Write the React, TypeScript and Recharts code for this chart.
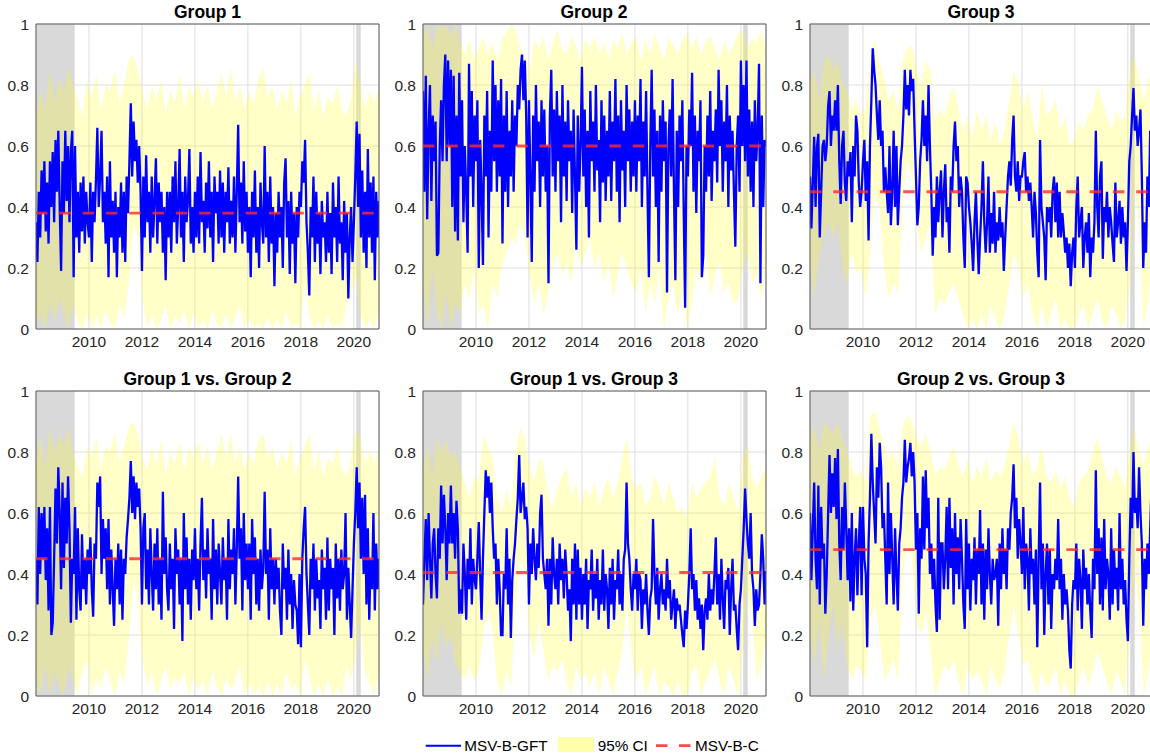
import React from 'react';
import {
  ComposedChart,
  Line,
  Area,
  XAxis,
  YAxis,
  CartesianGrid,
  ReferenceArea,
  ReferenceLine,
} from 'recharts';

// ---------- axis / category data ----------
const START = 2008.0;
const END = 2020.95;
const X_TICKS = [2010, 2012, 2014, 2016, 2018, 2020];
const Y_TICKS = [0, 0.2, 0.4, 0.6, 0.8, 1];
const RECESSIONS: [number, number][] = [
  [2008.0, 2009.46],
  [2020.09, 2020.26],
];

const TITLES = [
  'Group 1',
  'Group 2',
  'Group 3',
  'Group 1 vs. Group 2',
  'Group 1 vs. Group 3',
  'Group 2 vs. Group 3',
];

// constant-correlation model (MSV-B-C) levels
const CONST_LEVELS = [0.38, 0.6, 0.45, 0.45, 0.405, 0.48];

// ---------- MSV-B-GFT estimates (hundredths), 19 per year, evenly spaced 2008.0 .. 2020.95 ----------
const G1_EST = [
  35, 22, 45, 30, 52, 38, 55, 32, 48, 28, 55, 40, 58, 35, 62, 45, 65, 40, 19,
  55, 38, 65, 42, 60, 35, 58, 65, 17, 60, 30, 45, 25, 48, 32, 50, 28, 45, 35,
  30, 48, 22, 45, 35, 49, 66, 40, 50, 65, 35, 45, 28, 50, 17, 55, 30, 42, 25,
  45, 17, 40, 30, 48, 25, 45, 22, 50, 38, 55, 74, 50, 68, 55, 62, 48, 60, 45,
  19, 50, 30, 57, 35, 45, 25, 50, 30, 42, 56, 28, 48, 35, 45, 25, 40, 16, 45,
  30, 45, 25, 50, 35, 55, 28, 40, 59, 30, 45, 22, 50, 35, 42, 59, 28, 40, 25,
  45, 30, 50, 28, 58, 35, 42, 25, 48, 33, 55, 30, 45, 22, 50, 38, 45, 28, 52,
  30, 48, 25, 45, 35, 53, 28, 42, 30, 50, 25, 45, 67, 35, 48, 28, 55, 32, 45,
  25, 40, 17, 45, 30, 52, 25, 40, 20, 48, 35, 28, 60, 30, 45, 22, 50, 28, 40,
  14, 38, 25, 45, 30, 40, 20, 48, 56, 30, 42, 18, 45, 28, 38, 15, 40, 30, 45,
  40, 55, 48, 62, 35, 25, 11, 40, 30, 50, 22, 45, 28, 38, 18, 42, 30, 35, 22,
  45, 25, 38, 18, 48, 30, 40, 22, 50, 28, 35, 16, 42, 25, 38, 10, 30, 40, 22,
  35, 50, 68, 40, 64, 30, 52, 25, 45, 20, 59, 30, 48, 25, 50, 16, 45, 30, 42,
];
const G2_EST = [
  78, 45, 83, 36, 65, 80, 42, 70, 55, 68, 24, 25, 60, 75, 55, 80, 90, 55, 88,
  60, 85, 40, 83, 32, 70, 29, 84, 50, 75, 35, 60, 45, 25, 87, 50, 78, 40, 70,
  55, 75, 20, 62, 45, 21, 70, 50, 78, 30, 65, 45, 88, 55, 80, 45, 75, 50, 82,
  28, 70, 45, 78, 40, 65, 50, 75, 45, 70, 60, 80, 72, 85, 90, 75, 88, 70, 30,
  75, 50, 22, 70, 45, 80, 55, 68, 40, 75, 50, 72, 45, 60, 15, 70, 85, 50, 72,
  45, 78, 55, 70, 35, 80, 50, 68, 42, 75, 55, 65, 38, 72, 50, 26, 70, 45, 60,
  86, 50, 72, 40, 65, 30, 78, 55, 68, 45, 80, 52, 62, 35, 75, 48, 70, 42, 65,
  50, 78, 42, 68, 55, 82, 45, 70, 35, 75, 52, 65, 40, 80, 55, 72, 45, 68, 50,
  75, 45, 70, 55, 82, 40, 68, 50, 78, 45, 17, 60, 85, 50, 72, 40, 65, 22, 70,
  45, 75, 55, 68, 12, 60, 72, 50, 82, 45, 16, 65, 40, 70, 55, 75, 38, 7, 60,
  50, 72, 60, 84, 45, 70, 38, 65, 55, 75, 17, 24, 60, 45, 70, 50, 78, 42, 65,
  55, 72, 48, 85, 60, 75, 45, 68, 55, 80, 40, 70, 52, 65, 45, 27, 60, 70, 45,
  88, 60, 80, 55, 88, 50, 72, 45, 68, 40, 75, 55, 65, 87, 15, 70, 40, 62, 60,
];
const G3_EST = [
  50, 33, 48, 63, 40, 60, 64, 30, 45, 60, 62, 55, 60, 73, 78, 60, 70, 65, 75,
  65, 80, 55, 41, 60, 65, 48, 42, 55, 50, 58, 35, 60, 50, 70, 65, 48, 40, 45,
  55, 62, 42, 55, 29, 60, 75, 92, 85, 80, 70, 62, 75, 60, 65, 45, 53, 45, 38,
  60, 34, 45, 65, 40, 60, 34, 45, 55, 60, 70, 85, 72, 80, 70, 85, 78, 82, 65,
  50, 34, 40, 55, 62, 75, 60, 70, 55, 80, 60, 45, 24, 40, 30, 50, 35, 45, 52,
  30, 45, 54, 35, 40, 25, 50, 45, 60, 68, 55, 60, 40, 50, 45, 30, 20, 50, 48,
  40, 35, 28, 19, 35, 45, 30, 18, 30, 40, 55, 35, 25, 35, 50, 25, 38, 28, 45,
  25, 35, 29, 40, 30, 35, 19, 30, 40, 50, 55, 47, 62, 70, 50, 45, 55, 42, 50,
  50, 55, 58, 45, 50, 42, 48, 40, 30, 45, 38, 25, 17, 62, 40, 35, 30, 16, 40,
  35, 40, 30, 45, 50, 35, 48, 30, 45, 30, 38, 32, 25, 30, 20, 28, 14, 25, 30,
  20, 40, 50, 30, 35, 40, 20, 30, 35, 25, 38, 17, 30, 25, 35, 65, 40, 30, 50,
  55, 23, 40, 35, 45, 30, 40, 35, 28, 22, 48, 30, 35, 42, 28, 40, 30, 35, 19,
  35, 55, 60, 70, 79, 65, 70, 60, 65, 72, 50, 20, 35, 25, 50, 40, 65, 55, 60,
];
const G12_EST = [
  45, 30, 62, 40, 60, 45, 62, 38, 55, 28, 62, 20, 24, 45, 68, 50, 75, 60, 35,
  70, 42, 65, 50, 72, 55, 24, 45, 40, 62, 25, 55, 35, 28, 53, 35, 45, 30, 48,
  40, 52, 35, 26, 50, 45, 70, 62, 72, 40, 58, 45, 55, 35, 58, 30, 48, 35, 23,
  45, 35, 50, 30, 48, 25, 45, 40, 52, 58, 65, 77, 60, 72, 58, 70, 62, 68, 55,
  30, 55, 60, 35, 48, 30, 55, 40, 28, 50, 35, 55, 30, 45, 25, 67, 40, 52, 35,
  28, 50, 35, 45, 22, 55, 40, 48, 30, 45, 18, 60, 35, 52, 30, 45, 25, 48, 38,
  55, 35, 45, 28, 50, 65, 38, 48, 32, 55, 40, 45, 25, 58, 35, 48, 30, 50, 40,
  30, 52, 38, 45, 25, 58, 35, 48, 40, 55, 30, 48, 72, 45, 55, 28, 60, 38, 50,
  35, 50, 25, 58, 40, 52, 30, 45, 28, 48, 35, 42, 67, 40, 48, 25, 55, 35, 45,
  30, 45, 35, 42, 28, 20, 50, 35, 42, 25, 48, 30, 40, 22, 38, 30, 28, 17, 40,
  16, 45, 55, 62, 40, 30, 20, 45, 35, 50, 28, 45, 32, 38, 22, 48, 35, 42, 25,
  52, 28, 45, 35, 42, 20, 50, 32, 45, 28, 48, 35, 40, 60, 25, 42, 30, 19, 35,
  50, 60, 75, 55, 70, 45, 65, 40, 66, 30, 55, 25, 45, 35, 60, 28, 50, 35, 45,
];
const G13_EST = [
  30, 45, 58, 38, 60, 45, 32, 50, 55, 40, 32, 55, 45, 69, 50, 66, 55, 38, 60,
  50, 69, 50, 60, 45, 64, 55, 27, 35, 27, 50, 40, 25, 45, 35, 55, 30, 45, 38,
  35, 45, 57, 40, 25, 45, 60, 74, 65, 72, 60, 70, 55, 45, 50, 30, 45, 35, 20,
  20, 40, 35, 55, 30, 45, 19, 38, 45, 50, 58, 65, 79, 60, 65, 70, 58, 62, 55,
  30, 50, 40, 55, 45, 38, 50, 42, 60, 66, 45, 40, 35, 45, 23, 45, 30, 52, 40,
  35, 45, 30, 50, 38, 45, 32, 48, 40, 28, 35, 18, 45, 30, 50, 25, 48, 30, 42,
  25, 40, 30, 45, 22, 38, 35, 48, 28, 40, 32, 45, 25, 38, 30, 48, 28, 40, 35,
  22, 42, 30, 45, 25, 38, 35, 48, 30, 40, 28, 45, 48, 70, 50, 45, 35, 28, 40,
  35, 45, 28, 40, 38, 22, 35, 30, 40, 28, 20, 32, 35, 58, 40, 30, 42, 25, 35,
  40, 30, 35, 28, 45, 32, 38, 25, 30, 35, 22, 32, 28, 30, 25, 20, 16, 28, 22,
  30, 40, 55, 35, 40, 28, 38, 25, 32, 22, 30, 15, 28, 32, 25, 40, 28, 35, 30,
  40, 52, 30, 40, 25, 45, 32, 22, 38, 35, 42, 20, 35, 45, 28, 30, 22, 15, 30,
  35, 45, 55, 68, 58, 50, 45, 60, 40, 35, 23, 35, 28, 30, 40, 53, 45, 30, 41,
];
const G23_EST = [
  60, 38, 55, 70, 45, 35, 69, 30, 62, 45, 50, 27, 40, 60, 79, 60, 73, 62, 78,
  58, 81, 50, 38, 62, 48, 70, 55, 38, 55, 31, 60, 28, 45, 55, 33, 50, 62, 33,
  62, 45, 40, 16, 50, 65, 86, 70, 60, 50, 75, 65, 83, 75, 55, 60, 45, 30, 70,
  40, 60, 45, 30, 55, 40, 28, 50, 55, 65, 70, 84, 70, 75, 78, 83, 72, 80, 70,
  48, 60, 27, 55, 45, 72, 48, 74, 55, 65, 40, 50, 35, 45, 30, 21, 65, 25, 50,
  50, 35, 45, 62, 35, 65, 42, 55, 30, 60, 40, 52, 35, 58, 45, 30, 22, 58, 35,
  50, 28, 45, 38, 52, 30, 48, 40, 61, 30, 50, 25, 48, 35, 55, 40, 30, 45, 38,
  40, 45, 23, 50, 35, 55, 40, 48, 35, 55, 48, 60, 65, 76, 55, 65, 45, 58, 50,
  40, 62, 35, 50, 45, 28, 55, 40, 45, 30, 48, 16, 45, 70, 35, 50, 20, 40, 50,
  30, 48, 22, 40, 35, 45, 38, 58, 35, 45, 25, 40, 30, 35, 28, 15, 9, 30, 38,
  35, 50, 28, 45, 38, 22, 48, 35, 42, 30, 40, 28, 19, 45, 35, 74, 40, 55, 30,
  52, 28, 58, 35, 45, 40, 25, 55, 30, 48, 35, 42, 28, 60, 35, 45, 30, 38, 25,
  18, 45, 65, 55, 80, 60, 65, 55, 75, 60, 50, 23, 45, 35, 50, 40, 55, 70, 45,
];

// ---------- 95% credible interval bounds (hundredths), evenly spaced 2008.0 .. 2020.95 ----------
const G1_CI_HI = [
  70, 78, 72, 85, 75, 82, 78, 86, 80, 75, 70, 82,
  76, 84, 72, 80, 78, 85, 74, 80, 88, 90, 85, 78,
  72, 80, 75, 82, 70, 78, 74, 84, 72, 80, 76, 82,
  74, 80, 72, 78, 84, 76, 86, 74, 80, 72, 78, 74,
  82, 86, 76, 80, 72, 78, 74, 82, 70, 76, 80, 84,
  72, 78, 70, 76, 74, 80, 72, 70, 76, 88, 80, 72,
  78, 74, 80,
];
const G1_CI_LO = [
  0, 5, 0, 8, 3, 10, 5, 0, 8, 2, 0, 5,
  0, 4, 0, 6, 2, 0, 8, 3, 15, 35, 30, 10,
  0, 5, 0, 3, 8, 0, 4, 2, 6, 0, 5, 0,
  3, 0, 6, 2, 0, 5, 0, 4, 8, 0, 3, 0,
  2, 0, 4, 0, 3, 0, 6, 0, 2, 0, 15, 4,
  0, 3, 0, 5, 0, 2, 0, 8, 12, 18, 5, 0,
  3, 0, 6,
];
const G2_CI_HI = [
  95, 100, 92, 100, 98, 100, 96, 100, 94, 90, 95, 88,
  92, 96, 90, 94, 88, 95, 97, 100, 98, 92, 90, 85,
  95, 92, 96, 88, 94, 98, 92, 90, 96, 93, 88, 95,
  92, 96, 90, 94, 88, 95, 92, 97, 90, 94, 96, 88,
  95, 90, 97, 92, 88, 96, 93, 90, 95, 97, 92, 96,
  90, 94, 96, 92, 88, 95, 90, 93, 97, 98, 92, 95,
  94, 98, 92,
];
const G2_CI_LO = [
  15, 0, 20, 5, 0, 12, 0, 8, 5, 15, 10, 20,
  5, 8, 0, 15, 10, 20, 25, 30, 28, 35, 30, 18,
  8, 15, 5, 12, 20, 25, 18, 22, 15, 28, 20, 25,
  30, 20, 25, 15, 22, 10, 18, 25, 20, 15, 12, 20,
  5, 15, 8, 20, 0, 10, 15, 5, 12, 0, 8, 20,
  15, 25, 10, 18, 22, 12, 15, 8, 10, 20, 25, 15,
  18, 10, 20,
];
const G3_CI_HI = [
  80, 85, 75, 88, 90, 85, 88, 80, 78, 72, 75, 70,
  72, 90, 95, 88, 82, 75, 78, 72, 88, 92, 93, 85,
  80, 88, 85, 68, 72, 70, 75, 80, 72, 65, 70, 62,
  72, 65, 70, 62, 68, 60, 65, 75, 85, 80, 72, 78,
  70, 62, 80, 70, 72, 75, 65, 70, 60, 62, 68, 65,
  70, 72, 80, 75, 70, 65, 72, 68, 70, 85, 90, 82,
  75, 82, 85,
];
const G3_CI_LO = [
  20, 10, 25, 30, 35, 30, 35, 20, 15, 25, 18, 20,
  10, 25, 45, 40, 20, 10, 15, 12, 40, 55, 50, 35,
  25, 30, 35, 5, 10, 8, 12, 15, 10, 5, 0, 3,
  0, 5, 0, 8, 3, 0, 5, 15, 25, 20, 10, 15,
  5, 0, 8, 0, 5, 10, 0, 3, 0, 0, 5, 8,
  0, 5, 10, 3, 0, 8, 5, 0, 3, 15, 45, 35,
  0, 10, 30,
];
const G12_CI_HI = [
  78, 85, 75, 88, 80, 86, 82, 88, 80, 75, 72, 82,
  78, 85, 74, 82, 80, 86, 76, 82, 88, 90, 86, 78,
  74, 82, 76, 84, 72, 80, 76, 84, 74, 82, 78, 84,
  76, 82, 74, 80, 86, 78, 86, 76, 82, 74, 80, 76,
  84, 86, 78, 82, 74, 80, 76, 84, 72, 78, 82, 86,
  74, 80, 72, 78, 76, 82, 74, 72, 78, 88, 84, 76,
  80, 76, 82,
];
const G12_CI_LO = [
  5, 0, 10, 0, 8, 3, 0, 10, 5, 0, 8, 12,
  0, 6, 2, 10, 5, 0, 8, 4, 18, 38, 32, 12,
  3, 8, 0, 5, 10, 2, 6, 4, 8, 0, 6, 2,
  5, 0, 8, 3, 0, 6, 2, 5, 10, 0, 4, 0,
  3, 0, 5, 0, 4, 0, 8, 2, 4, 0, 12, 6,
  0, 4, 0, 6, 0, 3, 0, 10, 5, 15, 25, 8,
  4, 0, 8,
];
const G13_CI_HI = [
  75, 82, 72, 85, 80, 84, 78, 80, 75, 70, 65, 72,
  70, 85, 82, 78, 65, 60, 68, 62, 80, 88, 84, 75,
  70, 78, 76, 65, 62, 68, 72, 75, 65, 70, 62, 68,
  65, 70, 62, 68, 72, 65, 70, 78, 85, 72, 68, 70,
  62, 65, 72, 68, 62, 70, 65, 60, 62, 58, 70, 65,
  68, 70, 72, 78, 65, 62, 70, 65, 60, 78, 82, 72,
  68, 72, 75,
];
const G13_CI_LO = [
  15, 5, 20, 10, 25, 15, 20, 10, 8, 5, 10, 5,
  8, 20, 28, 22, 5, 0, 8, 3, 30, 45, 40, 20,
  12, 25, 15, 5, 10, 8, 12, 5, 0, 10, 5, 8,
  3, 8, 0, 10, 5, 0, 8, 15, 30, 15, 5, 10,
  0, 5, 10, 0, 5, 3, 0, 5, 0, 0, 8, 10,
  0, 5, 8, 12, 5, 0, 10, 5, 0, 15, 35, 25,
  5, 10, 20,
];
const G23_CI_HI = [
  85, 88, 80, 90, 88, 86, 90, 84, 80, 75, 72, 74,
  70, 92, 93, 88, 82, 78, 80, 75, 88, 92, 90, 85,
  82, 86, 80, 72, 75, 74, 78, 82, 76, 72, 78, 70,
  75, 72, 78, 70, 74, 72, 76, 82, 90, 84, 76, 80,
  72, 75, 82, 72, 70, 74, 68, 72, 65, 62, 70, 72,
  74, 80, 85, 78, 72, 70, 75, 72, 68, 82, 88, 80,
  76, 82, 85,
];
const G23_CI_LO = [
  20, 10, 25, 5, 20, 30, 15, 25, 10, 5, 10, 8,
  5, 25, 30, 20, 5, 8, 12, 5, 40, 50, 45, 25,
  20, 28, 15, 0, 5, 10, 8, 12, 5, 0, 10, 5,
  8, 5, 0, 10, 5, 3, 8, 20, 30, 20, 10, 12,
  5, 0, 8, 3, 5, 10, 0, 5, 0, 0, 5, 10,
  3, 8, 15, 10, 5, 0, 8, 5, 0, 20, 40, 30,
  0, 8, 25,
];

// ---------- build series ----------
const evenDates = (n: number) =>
  Array.from({ length: n }, (_, i) => START + (i * (END - START)) / (n - 1));

function lineData(est: number[]) {
  const d = evenDates(est.length);
  return est.map((v, i) => ({ t: d[i], v: v / 100 }));
}
function ciData(lo: number[], hi: number[]) {
  const n = Math.min(lo.length, hi.length);
  const d = evenDates(n);
  return Array.from({ length: n }, (_, i) => ({ t: d[i], lo: lo[i] / 100, hi: hi[i] / 100 }));
}

const SERIES = [
  { est: G1_EST, lo: G1_CI_LO, hi: G1_CI_HI },
  { est: G2_EST, lo: G2_CI_LO, hi: G2_CI_HI },
  { est: G3_EST, lo: G3_CI_LO, hi: G3_CI_HI },
  { est: G12_EST, lo: G12_CI_LO, hi: G12_CI_HI },
  { est: G13_EST, lo: G13_CI_LO, hi: G13_CI_HI },
  { est: G23_EST, lo: G23_CI_LO, hi: G23_CI_HI },
];

// ---------- layout ----------
const FONT = '"Liberation Sans", Arial, Helvetica, sans-serif';
const PLOT_W = 343;
const PLOT_H = 305;
const Y_AXIS_W = 36;
const X_AXIS_H = 30;
const M_TOP = 12;
const CHART_W = Y_AXIS_W + PLOT_W + 2;
const CHART_H = M_TOP + PLOT_H + X_AXIS_H;
const PLOT_LEFTS = [36, 422.5, 809.5];
const PLOT_TOPS = [24, 390.5];
const TITLE_TOPS = [1.5, 368.5];

const tickStyle = { fill: '#262626', fontSize: 15.5, fontFamily: FONT };

function Panel({ idx }: { idx: number }) {
  const col = idx % 3;
  const row = Math.floor(idx / 3);
  const plotLeft = PLOT_LEFTS[col];
  const plotTop = PLOT_TOPS[row];
  const s = SERIES[idx];
  const line = lineData(s.est);
  const ci = ciData(s.lo, s.hi);
  return (
    <>
      <div
        style={{
          position: 'absolute',
          left: plotLeft - Y_AXIS_W,
          top: plotTop - M_TOP,
          width: CHART_W,
          height: CHART_H,
        }}
      >
        <ComposedChart
          width={CHART_W}
          height={CHART_H}
          margin={{ top: M_TOP, right: 2, bottom: 0, left: 0 }}
        >
          <CartesianGrid stroke="#dedede" strokeWidth={1} />
          <XAxis
            type="number"
            dataKey="t"
            domain={[START, END]}
            allowDataOverflow
            ticks={X_TICKS}
            interval={0}
            axisLine={false}
            tickLine={false}
            tickSize={4}
            tickMargin={3}
            height={X_AXIS_H}
            tick={tickStyle}
          />
          <YAxis
            type="number"
            domain={[0, 1]}
            allowDataOverflow
            ticks={Y_TICKS}
            interval={0}
            axisLine={false}
            tickLine={false}
            tickSize={4}
            tickMargin={3}
            width={Y_AXIS_W}
            tick={tickStyle}
          />
          {RECESSIONS.map(([a, b], k) => (
            <ReferenceArea
              key={k}
              x1={a}
              x2={b}
              y1={0}
              y2={1}
              fill="#d9d9d9"
              fillOpacity={1}
              stroke="none"
              zIndex={50}
            />
          ))}
          <Area
            data={ci}
            dataKey={(d: any) => [d.lo, d.hi]}
            type="linear"
            fill="#ffff00"
            fillOpacity={0.22}
            stroke="none"
            dot={false}
            activeDot={false}
            isAnimationActive={false}
            zIndex={100}
          />
          <Line
            data={line}
            dataKey="v"
            type="linear"
            stroke="#0000ff"
            strokeWidth={2.3}
            dot={false}
            activeDot={false}
            isAnimationActive={false}
            zIndex={400}
          />
          <ReferenceLine
            y={CONST_LEVELS[idx]}
            stroke="#ff2a2a"
            strokeOpacity={0.8}
            strokeWidth={2.8}
            strokeDasharray="11.5 11.8"
            zIndex={450}
          />
          <ReferenceArea
            x1={START}
            x2={END}
            y1={0}
            y2={1}
            fill="none"
            stroke="#5a5a5a"
            strokeWidth={1}
            zIndex={600}
          />
        </ComposedChart>
      </div>
      <div
        style={{
          position: 'absolute',
          left: plotLeft,
          top: TITLE_TOPS[row],
          width: PLOT_W,
          textAlign: 'center',
          fontFamily: FONT,
          fontWeight: 'bold',
          fontSize: 17.5,
          lineHeight: '20px',
          color: '#000',
          whiteSpace: 'nowrap',
        }}
      >
        {TITLES[idx]}
      </div>
    </>
  );
}

function Legend() {
  return (
    <svg
      width={350}
      height={25}
      style={{ position: 'absolute', left: 420, top: 733, overflow: 'visible' }}
    >
      <line x1={5.7} x2={41} y1={12.7} y2={12.7} stroke="#0000ff" strokeWidth={2} />
      <text x={44.3} y={18.2} fontFamily={FONT} fontSize={15.3} fill="#000">
        MSV-B-GFT
      </text>
      <rect x={138} y={4} width={36} height={15} fill="#ffffaa" />
      <text x={177.7} y={18.2} fontFamily={FONT} fontSize={15.3} fill="#000">
        95% CI
      </text>
      <line
        x1={236}
        x2={271}
        y1={12.7}
        y2={12.7}
        stroke="#ff2a2a"
        strokeOpacity={0.85}
        strokeWidth={2.8}
        strokeDasharray="11.5 11.5"
      />
      <text x={275} y={18.2} fontFamily={FONT} fontSize={15.3} fill="#000">
        MSV-B-C
      </text>
    </svg>
  );
}

export default function App() {
  return (
    <div
      style={{
        position: 'absolute',
        left: 0,
        top: 0,
        width: 1150,
        height: 756,
        overflow: 'hidden',
        background: '#ffffff',
        fontFamily: FONT,
      }}
    >
      {[0, 1, 2, 3, 4, 5].map((i) => (
        <Panel key={i} idx={i} />
      ))}
      <Legend />
    </div>
  );
}
